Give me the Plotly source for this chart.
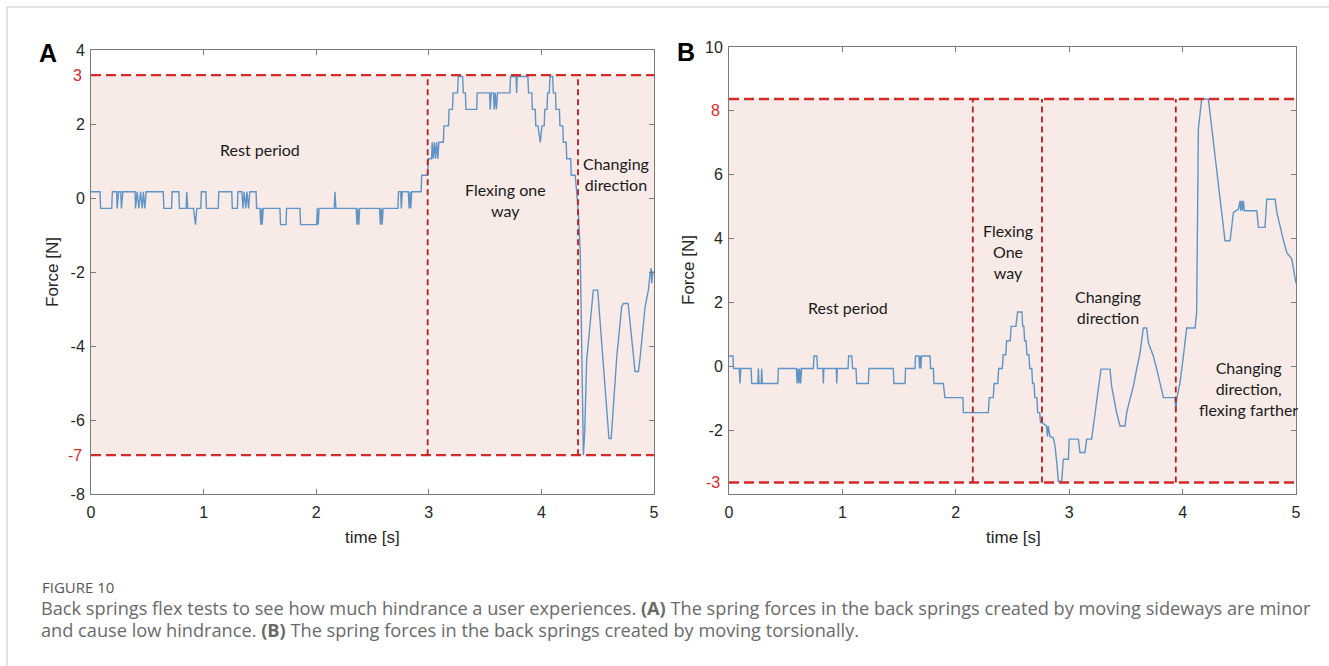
import plotly.graph_objects as go

W, H = 1329, 666

# ---------------- data: panel A ----------------
time_a = [0.00, 0.08, 0.085, 0.184, 0.19, 0.228, 0.232, 0.245, 0.265, 0.27, 0.283, 0.391, 0.395, 0.41, 0.425, 0.44,
          0.455, 0.465, 0.478, 0.49, 0.642, 0.647, 0.716, 0.72, 0.78, 0.785, 0.845, 0.85, 0.86, 0.91, 0.928, 0.94,
          0.975, 0.98, 1.02, 1.025, 1.13, 1.135, 1.25, 1.255, 1.30, 1.305, 1.34, 1.35, 1.36, 1.375, 1.385, 1.40,
          1.41, 1.466, 1.471, 1.50, 1.508, 1.515, 1.52, 1.53, 1.678, 1.683, 1.732, 1.737, 1.856, 1.861, 2.004,
          2.01, 2.018, 2.025, 2.16, 2.167, 2.175, 2.355, 2.362, 2.37, 2.378, 2.386, 2.563, 2.57, 2.578, 2.586,
          2.594, 2.726, 2.731, 2.75, 2.756, 2.765, 2.818, 2.825, 2.835, 2.84, 2.848, 2.932, 2.937, 2.99, 2.996,
          3.025, 3.03, 3.04, 3.05, 3.06, 3.07, 3.08, 3.09, 3.129, 3.135, 3.175, 3.18, 3.21, 3.216, 3.255, 3.262,
          3.30, 3.307, 3.325, 3.33, 3.425, 3.43, 3.54, 3.545, 3.555, 3.575, 3.58, 3.59, 3.60, 3.61, 3.72, 3.726,
          3.775, 3.78, 3.785, 3.88, 3.886, 3.915, 3.92, 3.945, 3.95, 3.97, 3.99, 4.005, 4.025, 4.03, 4.05, 4.055,
          4.07, 4.076, 4.10, 4.106, 4.125, 4.13, 4.16, 4.165, 4.19, 4.195, 4.22, 4.225, 4.26, 4.265, 4.30, 4.313,
          4.33, 4.345, 4.36, 4.373, 4.385, 4.402, 4.447, 4.461, 4.50, 4.521, 4.55, 4.58, 4.60, 4.62, 4.639, 4.669,
          4.713, 4.728, 4.77, 4.788, 4.817, 4.832, 4.862, 4.877, 4.921, 4.95, 4.966, 4.975, 4.98, 4.99, 5.0]
force_a = [0.17, 0.17, -0.28, -0.28, 0.17, 0.17, -0.28, 0.17, 0.17, -0.28, 0.17, 0.17, -0.28, 0.17, -0.28, 0.17,
           -0.28, 0.17, -0.28, 0.17, 0.17, -0.28, -0.28, 0.17, 0.17, -0.28, -0.28, 0.17, -0.28, -0.28, -0.72, -0.28,
           -0.28, 0.17, 0.17, -0.28, -0.28, 0.17, 0.17, -0.28, -0.28, 0.17, 0.17, -0.28, 0.17, -0.28, 0.17, -0.28,
           0.17, 0.17, -0.28, -0.28, -0.72, -0.28, -0.72, -0.28, -0.28, -0.72, -0.72, -0.28, -0.28, -0.72, -0.72,
           -0.28, -0.72, -0.28, -0.28, 0.17, -0.28, -0.28, -0.72, -0.28, -0.72, -0.28, -0.28, -0.72, -0.28, -0.72,
           -0.28, -0.28, 0.17, 0.17, -0.28, 0.17, 0.17, -0.28, 0.17, -0.28, 0.17, 0.17, 0.615, 0.615, 1.06,
           1.06, 1.505, 1.06, 1.505, 1.06, 1.505, 1.06, 1.505, 1.505, 1.95, 1.95, 2.395, 2.395, 2.84, 2.84, 3.285,
           3.285, 2.84, 2.84, 2.395, 2.395, 2.84, 2.84, 2.395, 2.84, 2.84, 2.395, 2.84, 2.395, 2.84, 2.84, 3.285,
           3.285, 2.84, 3.285, 3.285, 2.84, 2.84, 2.395, 2.395, 1.95, 1.95, 1.505, 1.95, 1.95, 2.395, 2.395, 2.84,
           2.84, 3.285, 3.285, 2.84, 2.84, 2.395, 2.395, 1.95, 1.95, 1.505, 1.505, 1.06, 1.06, 0.615, 0.615, 0.17,
           -0.5, -1.5, -4.5, -6.95, -6.3, -4.38, -2.94, -2.49, -2.49, -3.39, -4.38, -5.64, -6.5, -6.5, -5.64, -4.3,
           -2.94, -2.85, -2.85, -3.39, -4.3, -4.69, -4.69, -4.3, -2.94, -2.49, -2.03, -1.9, -2.3, -2.0, -2.0]

# ---------------- data: panel B ----------------
time_b = [0.0, 0.035, 0.04, 0.09, 0.097, 0.104, 0.195, 0.2, 0.255, 0.259, 0.265, 0.284, 0.288, 0.294, 0.43, 0.435,
          0.595, 0.6, 0.608, 0.616, 0.624, 0.632, 0.64, 0.744, 0.749, 0.775, 0.78, 0.828, 0.832, 0.836, 0.946,
          0.95, 0.955, 1.05, 1.055, 1.082, 1.09, 1.12, 1.126, 1.229, 1.234, 1.449, 1.454, 1.552, 1.557, 1.64,
          1.645, 1.675, 1.68, 1.686, 1.692, 1.698, 1.773, 1.778, 1.802, 1.807, 1.89, 1.904, 2.062, 2.067, 2.287,
          2.295, 2.33, 2.338, 2.37, 2.378, 2.41, 2.418, 2.44, 2.448, 2.48, 2.488, 2.53, 2.545, 2.57, 2.583, 2.59,
          2.6, 2.607, 2.62, 2.627, 2.645, 2.652, 2.67, 2.677, 2.69, 2.697, 2.715, 2.722, 2.74, 2.747, 2.757,
          2.80, 2.808, 2.816, 2.83, 2.86, 2.875, 2.89, 2.904, 2.934,
          2.948, 2.993, 3.0, 3.081, 3.095, 3.139, 3.154, 3.198, 3.213, 3.242, 3.257, 3.28, 3.36, 3.374, 3.418,
          3.448, 3.492, 3.507, 3.536, 3.566, 3.595, 3.624, 3.654, 3.683, 3.698, 3.742, 3.772, 3.801, 3.831, 3.933,
          3.94, 3.948, 3.977, 4.007, 4.036, 4.11, 4.124, 4.139, 4.154, 4.168, 4.227, 4.257, 4.286, 4.316, 4.345,
          4.374, 4.419, 4.448, 4.492, 4.507, 4.512, 4.52, 4.528, 4.536, 4.545, 4.654, 4.669, 4.727, 4.742, 4.816,
          4.831, 4.86, 4.89, 4.919, 4.963, 5.0]
force_b = [0.32, 0.32, -0.07, -0.07, -0.54, -0.07, -0.07, -0.54, -0.54, -0.07, -0.54, -0.54, -0.07, -0.54, -0.54, -0.07,
           -0.07, -0.54, -0.07, -0.54, -0.07, -0.54, -0.07, -0.07, 0.32, 0.32, -0.07, -0.07, -0.54, -0.07, -0.07,
           -0.54, -0.07, -0.07, 0.32, 0.32, -0.07, -0.07, -0.54, -0.54, -0.07, -0.07, -0.54, -0.54, -0.07, -0.07,
           0.32, 0.32, -0.07, 0.32, -0.07, 0.32, 0.32, -0.07, -0.07, -0.54, -0.54, -0.98, -0.98, -1.45, -1.45,
           -0.98, -0.98, -0.54, -0.54, -0.07, -0.07, 0.36, 0.36, 0.8, 0.8, 1.25, 1.25, 1.7, 1.7, 1.7, 1.25,
           1.25, 0.8, 0.8, 0.36, 0.36, -0.07, -0.07, -0.54, -0.54, -0.98, -0.98, -1.45, -1.45, -1.76, -1.76,
           -1.87, -2.2, -1.87, -2.2, -2.24, -2.5, -3.0, -3.6, -3.6,
           -2.91, -2.91, -2.28, -2.28, -2.7, -2.7, -2.28, -2.28, -1.87, -1.03, -0.62, -0.09, -0.09, -0.62, -1.45,
           -1.87, -1.87, -1.45, -1.03, -0.62, -0.09, 0.4, 1.2, 1.2, 0.74, 0.32, -0.09, -0.51, -0.98, -0.98,
           -1.4, -1.03, -0.51, 0.32, 1.2, 1.2, 1.69, 7.43, 7.95, 8.37, 8.37, 7.43, 6.49, 5.55, 4.82,
           3.93, 3.93, 4.82, 4.92, 5.18, 4.87, 5.18, 4.87, 5.18, 4.87, 4.87, 4.35, 4.35, 5.23, 5.23,
           4.82, 4.35, 3.93, 3.56, 3.36, 2.6]

# limits / markers
a_limits = [-6.95, 3.32]          # dashed horizontal lines in A
a_limit_labels = ["-7", "3"]
a_phase_times = [2.99, 4.325]     # dashed vertical lines in A
b_limits = [-3.64, 8.37]
b_limit_labels = ["-3", "8"]
b_limit_label_pos = [-3.64, 8.0]
b_phase_times = [2.15, 2.76, 3.94]

a_yticks = [-8, -6, -4, -2, 0, 2, 4]
a_yticktext = ["-8", "-6", "-4", "-2", "0", "2", "4"]
b_yticks = [-2, 0, 2, 4, 6, 8, 10]
b_yticktext = ["-2", "0", "2", "4", "6", "", "10"]
xticks = [0, 1, 2, 3, 4, 5]

a_notes = [("Rest period", 1.5, 1.3), ("Flexing one<br>way", 3.68, -0.05), ("Changing<br>direction", 4.66, 0.65)]
b_notes = [("Rest period", 1.05, 1.85), ("Flexing<br>One<br>way", 2.46, 3.6),
           ("Changing<br>direction", 3.34, 1.85), ("Changing<br>direction,<br>flexing farther", 4.58, -0.7)]

caption_title = "FIGURE 10"
caption_1 = ("Back springs flex tests to see how much hindrance a user experiences. <b>(A)</b> The spring forces in the "
             "back springs created by moving sideways are minor")
caption_2 = "and cause low hindrance. <b>(B)</b> The spring forces in the back springs created by moving torsionally."


def px(x):
    return x / W


def py(y):
    return 1 - y / H


LINE_BLUE = "#5f95c6"
RED = "#d42a2a"
DARK_RED = "#b51f1f"
FILL = "#f8ebe7"
TICKFONT = dict(family="Liberation Sans, Arial", size=16, color="#262626")

fig = go.Figure()
fig.add_trace(go.Scatter(x=time_a, y=force_a, mode="lines", line=dict(color=LINE_BLUE, width=1.4),
                         xaxis="x", yaxis="y", showlegend=False))
fig.add_trace(go.Scatter(x=time_b, y=force_b, mode="lines", line=dict(color=LINE_BLUE, width=1.4),
                         xaxis="x2", yaxis="y2", showlegend=False))

shapes = []
shapes.append(dict(type="rect", xref="x", yref="y", x0=0, x1=5, y0=a_limits[0], y1=a_limits[1],
                   fillcolor=FILL, line=dict(width=0), layer="below"))
shapes.append(dict(type="rect", xref="x2", yref="y2", x0=0, x1=5, y0=b_limits[0], y1=b_limits[1],
                   fillcolor=FILL, line=dict(width=0), layer="below"))
for v in a_limits:
    shapes.append(dict(type="line", xref="x", yref="y", x0=0, x1=5, y0=v, y1=v,
                       line=dict(color=RED, width=2.4, dash="10px,5px")))
for v in b_limits:
    shapes.append(dict(type="line", xref="x2", yref="y2", x0=0, x1=5, y0=v, y1=v,
                       line=dict(color=RED, width=2.4, dash="10px,5px")))
for t in a_phase_times:
    shapes.append(dict(type="line", xref="x", yref="y", x0=t, x1=t, y0=a_limits[0], y1=a_limits[1],
                       line=dict(color=DARK_RED, width=1.8, dash="6px,4px")))
for t in b_phase_times:
    shapes.append(dict(type="line", xref="x2", yref="y2", x0=t, x1=t, y0=b_limits[0], y1=b_limits[1],
                       line=dict(color=DARK_RED, width=1.8, dash="6px,4px")))
shapes.append(dict(type="line", xref="paper", yref="paper", x0=px(7), x1=1, y0=py(7), y1=py(7),
                   line=dict(color="#c8c8c8", width=1)))
shapes.append(dict(type="line", xref="paper", yref="paper", x0=px(7), x1=px(7), y0=py(7), y1=0,
                   line=dict(color="#c8c8c8", width=1)))

ann = []
NOTEFONT = dict(family="Lato, Open Sans", size=16, color="#1a1a1a")
for txt, x, y in a_notes:
    ann.append(dict(text=txt, x=x, y=y, xref="x", yref="y", xanchor="center", yanchor="middle",
                    showarrow=False, font=NOTEFONT))
for txt, x, y in b_notes:
    ann.append(dict(text=txt, x=x, y=y, xref="x2", yref="y2", xanchor="center", yanchor="middle",
                    showarrow=False, font=NOTEFONT))
for lab, v in zip(a_limit_labels, a_limits):
    ann.append(dict(text=lab, x=0, y=v, xref="x domain", yref="y", xanchor="right", yanchor="middle",
                    xshift=-7, showarrow=False, font=dict(family="Liberation Sans, Arial", size=16, color=RED)))
for lab, v in zip(b_limit_labels, b_limit_label_pos):
    ann.append(dict(text=lab, x=0, y=v, xref="x2 domain", yref="y2", xanchor="right", yanchor="middle",
                    xshift=-7, showarrow=False, font=dict(family="Liberation Sans, Arial", size=16, color=RED)))


def paper_text(text, x, y, font, xanchor="center", yanchor="middle", angle=0):
    ann.append(dict(text=text, x=px(x), y=py(y), xref="paper", yref="paper", xanchor=xanchor, yanchor=yanchor,
                    showarrow=False, font=font, textangle=angle))


LETTER = dict(family="Liberation Sans, Arial", size=25, color="black")
paper_text("<b>A</b>", 48, 53, LETTER)
paper_text("<b>B</b>", 686, 52, LETTER)
AXT = dict(family="Liberation Sans, Arial", size=17, color="#262626")
paper_text("time [s]", 372, 537, AXT)
paper_text("time [s]", 1013, 537, AXT)
paper_text("Force [N]", 52, 272, AXT, angle=-90)
paper_text("Force [N]", 688, 270, AXT, angle=-90)
paper_text(caption_title, 40, 587, dict(family="Open Sans", size=15, color="#555555"), xanchor="left")
CAPFONT = dict(family="Open Sans", size=18.2, color="#6a6a6a")
paper_text(caption_1, 39, 608, CAPFONT, xanchor="left")
paper_text(caption_2, 39, 630, CAPFONT, xanchor="left")

axis_common = dict(showgrid=False, zeroline=False, showline=True, linecolor="#7a7a7a", linewidth=1,
                   mirror="ticks", ticks="inside", ticklen=5, tickcolor="#7a7a7a", tickfont=TICKFONT,
                   automargin=False, fixedrange=True)

fig.update_layout(
    template=None,
    width=W, height=H, margin=dict(l=0, r=0, t=0, b=0, pad=0), autosize=False,
    paper_bgcolor="white", plot_bgcolor="white",
    xaxis=dict(domain=[px(91), px(654)], range=[0, 5], tickvals=xticks, anchor="y",
               ticklabelstandoff=4, **axis_common),
    yaxis=dict(domain=[py(494), py(50)], range=[-8, 4], tickvals=a_yticks, ticktext=a_yticktext,
               anchor="x", ticklabelstandoff=2, **axis_common),
    xaxis2=dict(domain=[px(729), px(1296)], range=[0, 5], tickvals=xticks, anchor="y2",
                ticklabelstandoff=4, **axis_common),
    yaxis2=dict(domain=[py(494), py(47)], range=[-4, 10], tickvals=b_yticks, ticktext=b_yticktext,
                anchor="x2", ticklabelstandoff=2, **axis_common),
    shapes=shapes, annotations=ann, showlegend=False,
)

fig.write_html("out.html")
